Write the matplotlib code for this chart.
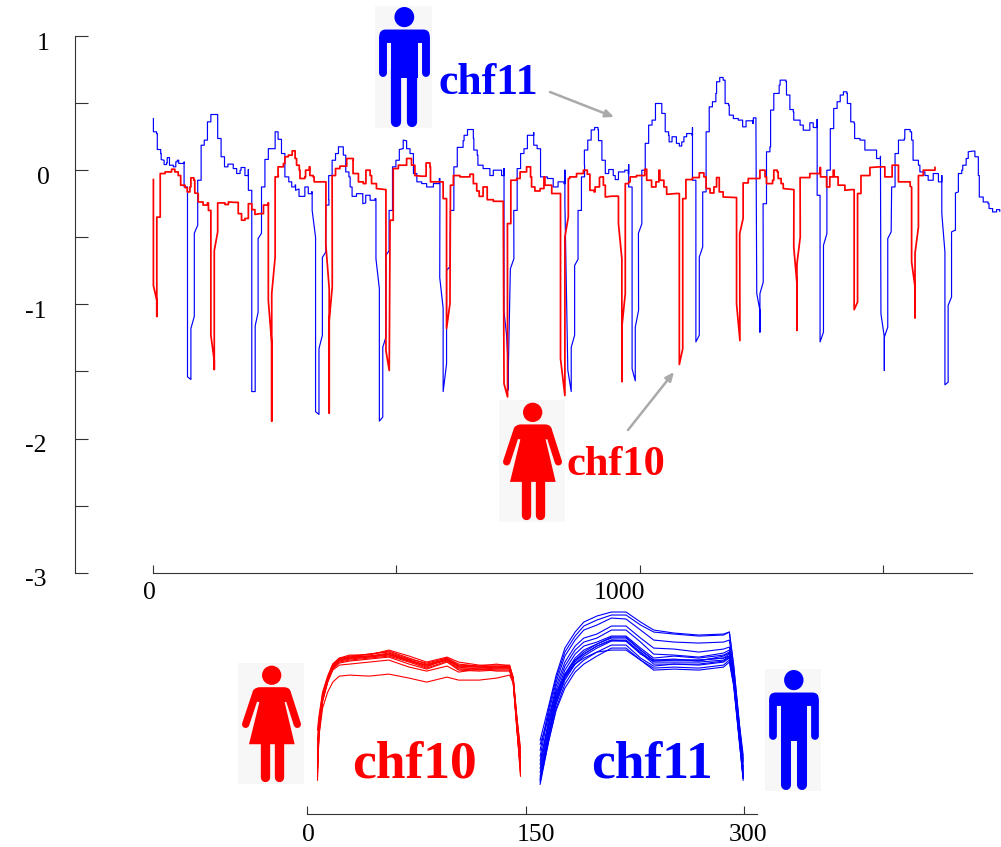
import matplotlib
matplotlib.use("Agg")
from matplotlib import pyplot as plt
from matplotlib import patches
from matplotlib.transforms import ScaledTranslation

plt.rcParams['font.family'] = ['Liberation Serif', 'DejaVu Serif']
plt.rcParams['axes.unicode_minus'] = False

# long recording, chf11
blue_x = [1, 1, 7.5, 9, 16, 17, 23, 23, 28, 29.4, 34, 42, 47, 50, 53, 59, 64.3, 64, 71, 71, 78, 78, 85, 85, 92, 92, 99, 99,
          105.4, 112, 112, 119, 119, 126, 133, 133, 140, 140, 147, 147, 154, 165, 172, 179, 181, 189, 189, 196, 196,
          203, 203, 210, 210, 216, 216, 223, 223, 230, 230, 237, 237, 245, 251, 251, 257, 257, 264, 264, 271, 271, 279,
          285, 292, 293, 300, 300, 312, 319, 326, 327, 334, 334, 341, 341, 348, 348, 355, 355, 361.4, 361, 368, 368, 375,
          381, 387.4, 391, 396, 396, 402.5, 405, 409, 418, 431, 437, 437, 446, 456, 458, 458, 465, 465, 472, 472, 478.5,
          478.5, 485, 485, 492, 492, 499, 506, 506, 513, 514, 521, 521, 528, 535, 542, 552, 562, 576, 588, 589.4, 589,
          596, 596, 603, 603, 610, 611, 618, 618, 625, 625, 637, 639, 646, 651, 658, 659, 666, 667.4, 678, 692, 699, 713,
          716, 721, 721, 726, 729, 729, 734, 741.3, 741, 748, 748, 755, 755, 762, 769, 782, 782, 789, 796, 810, 822, 832,
          844, 846, 846, 852, 859, 859, 866, 866, 873, 873, 880, 880, 886.4, 886, 893, 893, 900, 907, 914, 915, 922, 922,
          929, 929, 936, 945.3, 949.4, 956, 969, 976, 977, 977, 984, 984, 990.5, 990.5, 997.3, 997, 1004, 1004, 1011,
          1018, 1018, 1025, 1032, 1032, 1045, 1045, 1052, 1052, 1059, 1060, 1066, 1075, 1081, 1086, 1090.4, 1096, 1107,
          1108, 1108, 1115, 1115, 1122, 1122, 1129, 1129, 1136, 1142.4, 1149, 1156, 1157.5, 1164, 1171, 1175, 1182,
          1183.5, 1192, 1202, 1211, 1218, 1231.4, 1233, 1238.3, 1240, 1246.5, 1246.5, 1246.5, 1253.3, 1253, 1260, 1267,
          1268.4, 1275, 1275, 1286, 1288, 1300, 1301, 1308, 1315, 1316, 1329, 1335.5, 1349, 1356, 1363, 1364, 1364, 1370,
          1370, 1377, 1377, 1384, 1384, 1391, 1398, 1405, 1411.4, 1418, 1425, 1426, 1433, 1440, 1441, 1452, 1462, 1476,
          1486, 1494, 1495, 1502, 1502, 1502, 1509, 1509, 1516, 1517, 1524, 1524, 1531, 1531, 1543, 1544, 1555, 1558,
          1561, 1572, 1575, 1585.3, 1592, 1602.4, 1613, 1620, 1620, 1626.4, 1626.4, 1633, 1633, 1640, 1640, 1647, 1648,
          1654, 1654, 1661, 1663, 1670, 1674.3, 1683, 1688, 1695, 1697, 1705, 1715, 1717, 1724.3, 1732.5, 1739]
blue_y = [0.385, 0.286, 0.273, 0.154, 0.124, 0.079, 0.074, 0.042, 0.054, 0.094, 0.037, 0.025, 0.062, 0.074, 0.05, 0.05,
          0.062, -0.125, -0.26, -1.54, -1.56, -1.18, -1.09, -0.47, -0.41, -0.075, -0.025, 0.186, 0.224, 0.298, 0.36,
          0.373, 0.415, 0.415, 0.336, 0.236, 0.186, 0.1, 0.087, 0.025, 0.045, 0.012, -0.025, 0, 0.02, -0.005, -0.04,
          0.005, -0.15, -0.4, -1.65, -1.65, -1.16, -1.06, -0.51, -0.47, -0.125, -0.1, 0.08, 0.104, 0.16, 0.16, 0.224,
          0.286, 0.286, 0.23, 0.22, 0.124, 0.087, -0.05, -0.087, -0.125, -0.11, -0.15, -0.14, -0.195, -0.125, -0.175,
          -0.16, -0.3, -0.5, -1.8, -1.82, -1.33, -1.23, -0.65, -0.61, -0.26, -0.22, -0.04, -0.013, 0.074, 0.124, 0.174,
          0.174, 0.112, 0.062, -0.013, -0.05, -0.125, -0.195, -0.175, -0.25, -0.244, -0.187, -0.224, -0.212, -0.237,
          -0.66, -0.883, -1.87, -1.84, -1.32, -1.244, -0.635, -0.6, -0.3, -0.25, 0.025, 0.074, 0.087, 0.154, 0.16, 0.224,
          0.219, 0.16, 0.124, -0.025, -0.087, -0.1, -0.125, -0.1, -0.062, -0.112, -0.8, -1.03, -1.65, -1.444, -0.746,
          -0.72, -0.3, -0.25, 0.025, 0.05, 0.17, 0.22, 0.26, 0.303, 0.303, 0.236, 0.15, 0.112, 0.037, 0.012, -0.04, 0, 0,
          -0.04, 0.012, -1.057, -1.22, -1.42, -1.64, -0.735, -0.66, -0.3, -0.237, 0.012, 0.037, 0.124, 0.16, 0.26, 0.28,
          0.186, 0.16, -0.05, -0.062, -0.125, -0.087, -0.1, 0, -0.25, -1.49, -1.65, -1.32, -1.23, -0.71, -0.664, -0.3,
          -0.26, -0.05, 0.037, 0.15, 0.17, 0.224, 0.3, 0.318, 0.3, 0.22, 0.21, 0.074, 0.05, -0.025, 0.005, -0.04, -0.07,
          -0.013, 0, -0.025, 0.042, -0.125, -0.187, -1.48, -1.57, -1.17, -1.045, -0.47, -0.4, 0, 0.2, 0.249, 0.336, 0.373,
          0.423, 0.497, 0.497, 0.423, 0.41, 0.286, 0.26, 0.211, 0.249, 0.2, 0.18, 0.211, 0.249, 0.273, 0.26, 0.318, -0.075,
          -0.373, -1.28, -1.23, -0.647, -0.572, -0.162, 0.286, 0.472, 0.51, 0.572, 0.659, 0.691, 0.671, 0.497, 0.485, 0.41,
          0.385, 0.373, 0.323, 0.368, 0.348, 0.39, 0.348, -0.92, -1.045, -1.207, -0.92, -0.834, -0.25, 0.137, 0.174, 0.448,
          0.51, 0.572, 0.634, 0.671, 0.659, 0.56, 0.452, 0.435, 0.373, 0.336, 0.298, 0.353, 0.318, 0.318, 0.378, -0.187,
          -0.448, -1.28, -1.207, -0.56, -0.473, 0, 0.31, 0.46, 0.51, 0.56, 0.584, 0.572, 0.497, 0.36, 0.348, 0.236, 0.224,
          0.15, 0.15, 0.087, 0.104, -1.07, -1.244, -1.493, -1.244, -1.17, -0.51, -0.46, -0.125, -0.075, 0.124, 0.15, 0.224,
          0.236, 0.303, 0.286, 0.224, 0.074, 0.037, -0.013, -0.04, -0.075, -0.025, -0.087, -0.04, -0.324, -0.61, -1.6,
          -1.58, -1.008, -0.945, -0.46, -0.448, -0.17, -0.162, -0.025, 0, 0.037, 0.087, 0.137, 0.142, 0.1, -0.04, -0.2,
          -0.237, -0.25, -0.286, -0.311, -0.294, -0.306]

# long recording, chf10
red_x = [1, 1, 8, 8, 8, 15, 15, 25, 38.3, 45, 52, 57, 66, 70.5, 76, 78, 84, 86, 93, 93, 103, 112, 114, 119, 119, 126, 126,
         126, 133, 133, 148, 155, 168.4, 175.2, 182, 189, 196, 196, 203, 203, 209.5, 220, 227, 237, 237, 244, 244, 244,
         251, 251, 257.4, 257, 268, 271, 278, 286, 292, 295, 300.5, 302, 312, 313.5, 321, 322.4, 329, 331, 343, 355.3,
         355, 362, 362, 362, 368.3, 368, 375, 384, 398, 411.4, 411, 422, 432, 437.4, 446, 449, 459, 478.5, 478.5, 485.3,
         487, 493.5, 493.5, 504, 521, 531, 538, 552, 561, 569, 570, 586, 596, 596, 603, 603, 610, 611, 617, 630.4, 651,
         658, 665, 670, 678, 685, 686.5, 699, 719.4, 721, 728.3, 728, 735, 735, 747, 754, 767.3, 775.5, 777.6, 784.4, 795,
         803, 805, 819, 837, 837, 846, 846, 853, 853, 856, 870, 884, 892, 897.4, 906, 908, 917, 921, 925, 929, 942, 956,
         956, 963, 963, 963, 970, 970, 977, 980, 993, 1010, 1014, 1024, 1033, 1039, 1041, 1049.3, 1055, 1075, 1081, 1081,
         1088, 1088, 1094.5, 1094.5, 1108, 1122, 1131.5, 1136, 1144, 1152, 1157.5, 1163, 1171, 1198.5, 1198.5, 1205.4,
         1205, 1212, 1212, 1222.5, 1246.5, 1257, 1260, 1272.5, 1275, 1282, 1284, 1290, 1294.4, 1316.3, 1316, 1322.5,
         1322.5, 1322.5, 1329.3, 1329, 1349, 1370, 1371, 1383.4, 1390, 1397, 1399, 1407, 1421, 1433, 1440, 1440, 1447,
         1447, 1454, 1454, 1472.4, 1493, 1503, 1517, 1518, 1524, 1531, 1555, 1558, 1558, 1565, 1565, 1565, 1572, 1572,
         1582, 1606]
red_y = [-0.07, -0.86, -0.97, -1.09, -0.35, -0.2, -0.025, -0.013, 0.007, -0.013, -0.04, -0.112, -0.13, -0.162, -0.125,
         -0.057, -0.075, -0.17, -0.174, -0.237, -0.26, -0.244, -0.3, -0.31, -1.23, -1.42, -1.485, -0.6, -0.46, -0.244,
         -0.256, -0.237, -0.24, -0.324, -0.373, -0.36, -0.324, -0.25, -0.25, -0.294, -0.33, -0.324, -0.26, -0.244, -0.97,
         -1.29, -1.87, -0.92, -0.647, -0.05, -0.04, 0.025, 0.05, 0.1, 0.112, 0.144, 0.087, 0.037, 0, -0.062, -0.05, 0,
         0.025, -0.04, -0.05, -0.087, -0.087, -0.105, -0.55, -0.883, -1.81, -1.12, -0.87, -0.04, 0.012, 0.03, 0.087, 0.07,
         -0.025, -0.087, -0.1, 0, -0.04, -0.1, -0.137, -0.145, -1.344, -1.493, -0.373, -0.26, 0.012, 0.037, 0.087, 0.037,
         -0.04, -0.045, 0.054, 0.025, -0.087, -0.087, -0.125, -0.212, -0.324, -1.18, -0.995, -0.112, -0.04, -0.05, -0.03,
         -0.1, -0.155, -0.195, -0.125, -0.125, -0.22, -0.232, -0.232, -1.592, -1.69, -0.398, -0.3, -0.075, -0.062, -0.013,
         0.025, -0.05, -0.125, -0.155, -0.137, -0.05, -0.112, -0.174, -0.187, -1.405, -1.68, -0.498, -0.35, -0.062, -0.05,
         -0.025, 0, -0.03, -0.15, -0.162, -0.125, -0.055, -0.05, -0.112, -0.2, -0.194, -0.194, -0.398, -0.66, -1.575, -1.17,
         -0.92, -0.1, -0.087, -0.05, -0.04, 0.007, -0.075, -0.125, -0.087, 0, -0.075, -0.125, -0.18, -0.174, -0.212, -1.448,
         -1.33, -0.212, -0.162, -0.07, -0.055, -0.02, -0.05, -0.137, -0.17, -0.125, -0.055, -0.162, -0.2, -0.204, -0.995,
         -1.27, -0.473, -0.36, -0.095, -0.062, 0, -0.05, -0.1, -0.075, 0, -0.013, -0.062, -0.1, -0.137, -0.145, -0.572,
         -0.846, -1.194, -0.7, -0.498, -0.055, -0.025, 0.02, -0.05, -0.125, -0.05, 0, -0.05, -0.112, -0.15, -0.145, -0.2,
         -1.04, -0.983, -0.174, -0.125, -0.04, 0.02, 0.025, -0.05, -0.05, 0.037, 0.037, -0.087, -0.12, -0.125, -0.684, -0.87,
         -1.1, -0.62, -0.423, -0.04, 0, 0.02]

y_ticks = [-3, -2.5, -2, -1.5, -1, -0.5, 0, 0.5, 1]
y_labels = ['-3', '', '-2', '', '-1', '', '0', '', '1']
x_ticks = [0, 500, 1000, 1500]
x_labels = ['0', '', '1000', '']

# overlaid single beats
beat_red_x = [7, 8, 10.5, 14, 17.5, 22, 29, 42.5, 56, 70, 82, 96, 104, 118, 130, 139, 141.5, 144, 146.5]
beats_red = [
    [.10, .33, .50, .60, .67, .70, .71, .72, .735, .70, .675, .70, .67, .665, .67, .665, .60, .38, .15],
    [.22, .36, .52, .61, .675, .705, .72, .73, .745, .71, .68, .705, .675, .67, .665, .67, .605, .40, .19],
    [.14, .34, .51, .60, .665, .695, .705, .715, .725, .695, .665, .71, .665, .655, .66, .66, .59, .37, .13],
    [.35, .42, .54, .62, .68, .71, .725, .725, .75, .72, .69, .715, .69, .675, .675, .675, .61, .42, .24],
    [.26, .38, .52, .605, .67, .70, .715, .72, .73, .70, .67, .70, .66, .66, .665, .66, .60, .39, .21],
    [.18, .35, .50, .595, .66, .69, .70, .71, .72, .69, .66, .695, .655, .65, .655, .655, .595, .36, .12],
    [.30, .40, .53, .615, .68, .71, .715, .73, .74, .705, .685, .71, .68, .67, .68, .67, .615, .41, .26],
    [.12, .33, .49, .59, .655, .685, .695, .705, .715, .68, .655, .69, .65, .645, .65, .65, .585, .35, .17],
    [.24, .37, .51, .60, .665, .70, .71, .715, .73, .695, .675, .705, .67, .665, .66, .665, .60, .40, .22],
    [.16, .34, .50, .59, .65, .675, .68, .69, .70, .665, .645, .67, .64, .655, .645, .645, .59, .38, .14],
    [.20, .32, .46, .54, .59, .62, .625, .62, .63, .61, .59, .615, .60, .60, .61, .625, .585, .37, .16],
]
beat_blue_x = [160, 166, 171, 177, 184, 190, 199, 209, 219, 229, 238, 252, 269, 286, 290, 293, 297, 299.5]
beats_blue = [
    [.30, .475, .625, .76, .84, .89, .92, .94, .94, .89, .85, .835, .825, .83, .84, .675, .375, .225],
    [.25, .46, .61, .74, .82, .87, .90, .925, .925, .875, .84, .83, .82, .825, .84, .665, .37, .20],
    [.22, .44, .59, .72, .80, .85, .875, .91, .905, .85, .80, .79, .785, .79, .80, .64, .36, .19],
    [.18, .41, .57, .69, .77, .81, .83, .87, .87, .81, .76, .755, .74, .755, .765, .63, .35, .17],
    [.16, .39, .55, .67, .75, .79, .81, .85, .85, .79, .73, .725, .715, .735, .75, .62, .34, .15],
    [.14, .37, .53, .65, .73, .77, .79, .82, .82, .76, .71, .72, .71, .725, .74, .61, .33, .14],
    [.12, .35, .51, .63, .71, .75, .78, .815, .815, .75, .70, .70, .70, .71, .73, .60, .32, .13],
    [.11, .34, .50, .62, .70, .74, .78, .81, .81, .75, .70, .705, .695, .72, .735, .60, .31, .12],
    [.10, .33, .49, .61, .69, .73, .77, .80, .80, .74, .69, .69, .69, .70, .72, .595, .30, .115],
    [.09, .32, .48, .60, .68, .72, .76, .795, .795, .73, .695, .70, .70, .71, .72, .59, .30, .11],
    [.08, .30, .46, .58, .66, .70, .74, .775, .775, .71, .67, .68, .675, .69, .71, .58, .29, .10],
    [.10, .30, .45, .56, .64, .68, .72, .76, .76, .70, .65, .655, .65, .665, .69, .57, .28, .11],
    [.20, .38, .52, .63, .70, .73, .77, .80, .795, .735, .68, .68, .68, .695, .715, .60, .33, .16],
    [.28, .42, .54, .62, .68, .71, .74, .75, .75, .70, .66, .665, .66, .675, .70, .58, .30, .21],
]
beat_ticks = [0, 150, 300]

W, H = 1001, 847
fig = plt.figure(figsize=(W / 100, H / 100), dpi=100)


def px_axes(x0, y0, x1, y1):
    # axes from a pixel box, y counted from the top
    return fig.add_axes([x0 / W, 1 - y1 / H, (x1 - x0) / W, (y1 - y0) / H])


def nudge(label, dx, dy):
    label.set_transform(label.get_transform() + ScaledTranslation(dx / 100, -dy / 100, fig.dpi_scale_trans))


def stairs(xs, ys):
    # the trace is stepped near the baseline, the deep downstrokes are not
    out_x, out_y = [xs[0]], [ys[0]]
    for i in range(1, len(xs)):
        if ys[i] > -0.45 and ys[i - 1] > -0.45 and abs(ys[i] - ys[i - 1]) > 0.01:
            out_x.append(xs[i])
            out_y.append(ys[i - 1])
        out_x.append(xs[i])
        out_y.append(ys[i])
    return out_x, out_y


ax = px_axes(75, 36, 972, 572.7)
ax.patch.set_alpha(0)
ax.set_xlim(-160, 1682)
ax.set_ylim(-3, 1)
bx, by = stairs(blue_x, blue_y)
rx, ry = stairs(red_x, red_y)
ax.plot(bx, by, color='#0000ff', lw=0.85, clip_on=False)
ax.plot(rx, ry, color='#ff0000', lw=1.25, clip_on=False)
for s in ['top', 'right']:
    ax.spines[s].set_visible(False)
ax.spines['left'].set_linewidth(0.8)
ax.spines['bottom'].set_linewidth(0.8)
ax.spines['left'].set_color('#333333')
ax.spines['bottom'].set_color('#333333')
ax.spines['bottom'].set_bounds(0, 1682)
ax.set_yticks(y_ticks)
ax.set_yticklabels(y_labels, fontsize=18.5)
ax.set_xticks(x_ticks)
ax.set_xticklabels(x_labels, fontsize=18.5)
ax.tick_params(axis='y', direction='in', length=9.4, width=0.8, pad=18, color='#333333')
ax.tick_params(axis='x', direction='in', length=5.5, width=0.8, pad=7, color='#333333')
for lab, txt in zip(ax.get_yticklabels(), y_labels):
    nudge(lab, -4 if txt.startswith('-') else 0, 5)
nudge(ax.get_xticklabels()[0], -3, 0)
nudge(ax.get_xticklabels()[2], -20, 0)

ax2 = px_axes(307.3, 600, 757, 814.3)
ax2.patch.set_alpha(0)
ax2.set_xlim(0, 309)
ax2.set_ylim(-0.07, 1)
for b in beats_red:
    ax2.plot(beat_red_x, b, color='#ff0000', lw=0.8)
for b in beats_blue:
    ax2.plot(beat_blue_x, b, color='#0000ff', lw=0.8)
for s in ['top', 'right', 'left']:
    ax2.spines[s].set_visible(False)
ax2.spines['bottom'].set_linewidth(0.8)
ax2.spines['bottom'].set_color('#333333')
ax2.set_yticks([])
ax2.set_xticks(beat_ticks)
ax2.set_xticklabels([str(t) for t in beat_ticks], fontsize=18.5)
ax2.tick_params(axis='x', direction='in', length=6, width=0.8, pad=7, color='#333333')
nudge(ax2.get_xticklabels()[0], 1, 0)
nudge(ax2.get_xticklabels()[1], 10, 0)
nudge(ax2.get_xticklabels()[2], 4, 0)

# pixel overlay for the icons, names and arrows
top = fig.add_axes([0, 0, 1, 1], zorder=5)
top.set_xlim(0, W)
top.set_ylim(H, 0)
top.axis('off')


def limb(p, q, wid, sc, x0, y0, color):
    top.plot([x0 + p[0] * sc[0], x0 + q[0] * sc[0]], [y0 + p[1] * sc[1], y0 + q[1] * sc[1]],
             color=color, lw=wid * sc[0] * 0.72, solid_capstyle='round')


def man(x0, y0, x1, y1, color):
    sc = ((x1 - x0) / 173, (y1 - y0) / 363)
    top.add_patch(patches.Rectangle((x0, y0), x1 - x0, y1 - y0, color='#f7f7f7', lw=0))
    top.add_patch(patches.Ellipse((x0 + 89 * sc[0], y0 + 33 * sc[1]), 60 * sc[0], 60 * sc[1], color=color, lw=0))
    top.add_patch(patches.FancyBboxPatch((x0 + 13 * sc[0], y0 + 70 * sc[1]), 153 * sc[0], 40 * sc[1],
                                         boxstyle='round,pad=0,rounding_size=%f' % (20 * sc[0]), color=color, lw=0))
    top.add_patch(patches.Rectangle((x0 + 48 * sc[0], y0 + 90 * sc[1]), 81 * sc[0], 125 * sc[1], color=color, lw=0))
    limb((24, 95), (24, 200), 24, sc, x0, y0, color)
    limb((154, 95), (154, 200), 24, sc, x0, y0, color)
    limb((64, 190), (64, 345), 31, sc, x0, y0, color)
    limb((113, 190), (113, 345), 31, sc, x0, y0, color)


def woman(x0, y0, x1, y1, color):
    sc = ((x1 - x0) / 198, (y1 - y0) / 365)
    top.add_patch(patches.Rectangle((x0, y0), x1 - x0, y1 - y0, color='#f7f7f7', lw=0))
    top.add_patch(patches.Ellipse((x0 + 101 * sc[0], y0 + 37 * sc[1]), 58 * sc[0], 58 * sc[1], color=color, lw=0))
    dress = [(66, 110), (33, 245), (170, 245), (138, 110)]
    top.add_patch(patches.Polygon([(x0 + a * sc[0], y0 + b * sc[1]) for a, b in dress], color=color, lw=0))
    top.add_patch(patches.FancyBboxPatch((x0 + 46 * sc[0], y0 + 73 * sc[1]), 112 * sc[0], 45 * sc[1],
                                         boxstyle='round,pad=0,rounding_size=%f' % (20 * sc[0]), color=color, lw=0))
    limb((55, 88), (23, 185), 22, sc, x0, y0, color)
    limb((147, 88), (178, 185), 22, sc, x0, y0, color)
    limb((80, 235), (80, 345), 28, sc, x0, y0, color)
    limb((122, 235), (122, 345), 28, sc, x0, y0, color)


man(375, 6, 432, 128, '#0000ff')
man(765, 669, 821, 791, '#0000ff')
woman(499, 400, 565, 522, '#ff0000')
woman(238, 663, 304, 784, '#ff0000')

bold = dict(fontweight='bold', va='baseline', ha='left')
top.text(439, 94, 'chf11', color='#0000ff', fontsize=31.5, **bold)
top.text(567, 475, 'chf10', color='#ff0000', fontsize=30.5, **bold)
top.text(352, 778, 'chf10', color='#ff0000', fontsize=38.5, **bold)
top.text(591, 778, 'chf11', color='#0000ff', fontsize=38.5, **bold)

arrow = dict(arrowstyle='-|>,head_length=0.5,head_width=0.22', color='#aaaaaa', lw=1.8, shrinkA=0, shrinkB=0)
top.annotate('', xy=(614, 117), xytext=(550, 92), arrowprops=arrow)
top.annotate('', xy=(674, 372), xytext=(628, 430), arrowprops=arrow)

fig.savefig('out.png', dpi=100)
